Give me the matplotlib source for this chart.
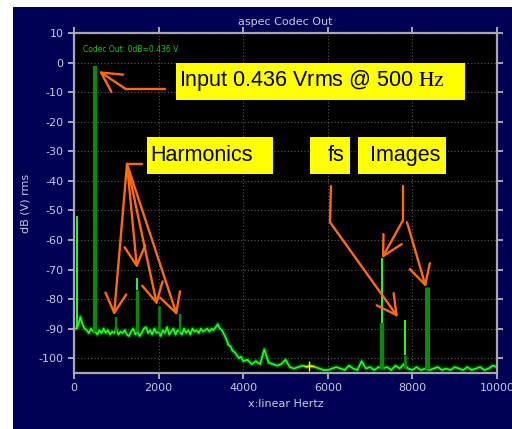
import matplotlib.pyplot as plt
from matplotlib.patches import Rectangle
import numpy as np

plt.rcParams['mathtext.fontset'] = 'stix'
plt.rcParams['axes.unicode_minus'] = False

# noise floor: every 50 Hz up to 4000, then every 100 Hz
freq_lo = np.arange(0, 4001, 50)
floor_lo = [-90, -90, -89, -86, -88.5, -90, -90.5, -91.5, -90, -91,
            -91, -92, -90.5, -91.5, -90, -91.5, -90.5, -92, -91, -91.5,
            -90, -92, -91, -91.5, -90.5, -92, -92.5, -91, -90, -92,
            -91, -92.5, -91.5, -90, -89.5, -91.5, -90.5, -92, -90, -91.5,
            -91, -92.5, -90.5, -91.5, -89.5, -92, -91, -90, -92, -90.5,
            -91, -92, -90, -91.5, -90.5, -92, -90, -91, -90.5, -91.5,
            -90, -91, -90.5, -90, -91, -90, -90.5, -89.5, -88.5, -90,
            -90.5, -92, -93.5, -95.5, -96, -97.5, -98, -99, -100, -99.5, -101]
freq_hi = np.arange(4100, 10001, 100)
floor_hi = [-100.5, -102, -101, -102, -97, -101.5, -102, -102.5, -102,
            -100.5, -103, -103.5, -103, -102.5, -103, -102.5, -103, -103.5, -104,
            -104, -103.5, -103, -103.5, -104, -102.5, -103.5, -104, -101, -103.5,
            -103, -104, -103, -103.5, -103, -104, -102.5, -103.5, -102, -103.5,
            -104, -103, -104, -103.5, -104, -103.5, -103, -104, -103.5, -104,
            -103, -103.5, -104, -103, -104, -103.5, -103, -104, -103.5, -102.5, -103]
freq = np.concatenate([freq_lo, freq_hi])
floor = floor_lo + floor_hi

# tones: frequency, peak level, top of the dark (thick) part, base level
tone_f = [60, 500, 1000, 1500, 2000, 2500, 7290, 7830, 8340]
tone_top = [-52, -1, -86, -73, -82.5, -85, -66, -87, -76]
tone_dark = [-90, -1, -86, -77, -82.5, -85, -88, -99, -76]
tone_base = [-90, -91, -91, -91, -91, -91, -103.5, -103.5, -103.5]
tone_w = [0.5, 3.0, 1.6, 2.4, 1.8, 1.6, 3.2, 2.0, 3.6]

navy = '#000055'
txtc = '#c8c8dc'
gridc = '#5a5a5a'
orange = '#ff6a10'

fig = plt.figure(figsize=(5.12, 4.29), dpi=100, facecolor='white')
fig.patches.append(Rectangle((13/512, 0), 1, (429-7)/429, transform=fig.transFigure,
                             facecolor=navy, edgecolor='none', zorder=-10))
ax = fig.add_axes([74/512, (429-373)/429, (497-74)/512, (373-33)/429])
ax.set_facecolor('black')
ax.set_xlim(0, 10000)
ax.set_ylim(-105, 10)
ax.set_xticks([0, 2000, 4000, 6000, 8000, 10000])
ax.set_yticks(np.arange(-100, 11, 10))
ax.grid(True, color=gridc, linestyle=(0, (1, 2)), linewidth=0.8)
for s in ax.spines.values():
    s.set_color('#a8a8b0')
    s.set_linewidth(1.6)
ax.tick_params(colors='#a8a8b0', labelcolor=txtc, labelsize=8, length=4, width=1.4,
               top=True, right=True, direction='out')
ax.set_title('aspec Codec Out', color=txtc, fontsize=8, pad=6)
ax.set_xlabel('x:linear Hertz', color=txtc, fontsize=8, labelpad=4)
ax.set_ylabel('dB (V) rms', color=txtc, fontsize=8, labelpad=6)

# spectrum trace
ax.plot(freq, floor, color='#0b6e0b', lw=3.5, alpha=0.6, solid_joinstyle='round')
ax.plot(freq, floor, color='#22ff22', lw=1.2)
for f, t, d, b, w in zip(tone_f, tone_top, tone_dark, tone_base, tone_w):
    ax.vlines(f, b, d, color='#0a8a0a', lw=w)
    if t > d:
        ax.vlines(f, d, t, color='#22ff22', lw=1.4)

ax.plot([5560], [-102.7], marker='+', color='yellow', ms=7, mew=1)
ax.text(220, 4.5, 'Codec Out: 0dB=0.436 V', color='#20c020', fontsize=5.5, va='center')

# callout boxes
def box(x0, x1, y0, y1):
    ax.add_patch(Rectangle((x0, y1), x1 - x0, y0 - y1, facecolor='yellow',
                           edgecolor='none', zorder=5))

box(2411, 9243, -0.2, -12.7)
box(1726, 4704, -25.2, -37.7)
box(5579, 6525, -25.2, -37.7)
box(6714, 8794, -25.2, -37.7)
tf = dict(fontsize=15.5, family='Liberation Sans', va='center', ha='left', zorder=6)
ax.text(2480, -6.0, r'Input 0.436 Vrms @ 500 $\mathrm{Hz}$', **tf)
ax.text(1810, -31.4, 'Harmonics', **tf)
ax.text(6005, -31.4, 'fs', **tf)
ax.text(7000, -31.4, 'Images', **tf)

# arrows
lk = dict(color=orange, lw=1.7, zorder=7, solid_capstyle='round')
ap = dict(arrowstyle='->, head_length=1.4, head_width=0.75', color=orange, lw=1.7,
          shrinkA=0, shrinkB=0)

def arrow(tail, tip):
    ax.annotate('', xy=tip, xytext=tail, arrowprops=ap, zorder=7)

ax.plot([2151, 1229], [-9.0, -9.0], **lk)
arrow((1229, -9.0), (591, -2.9))
ax.plot([1253, 1608], [-34.3, -34.3], **lk)
for tip in [(946, -85.5), (1489, -69.5), (1962, -82), (2435, -85.5)]:
    arrow((1253, -34.3), tip)
ax.plot([6075, 6052], [-41.8, -54], **lk)
arrow((6052, -54), (7659, -86.1))
ax.plot([7778, 7778], [-41.8, -53.3], **lk)
arrow((7778, -53.3), (7281, -66.2))
arrow((7872, -54), (8321, -76))

plt.savefig('out.png', dpi=100, facecolor=fig.get_facecolor())
